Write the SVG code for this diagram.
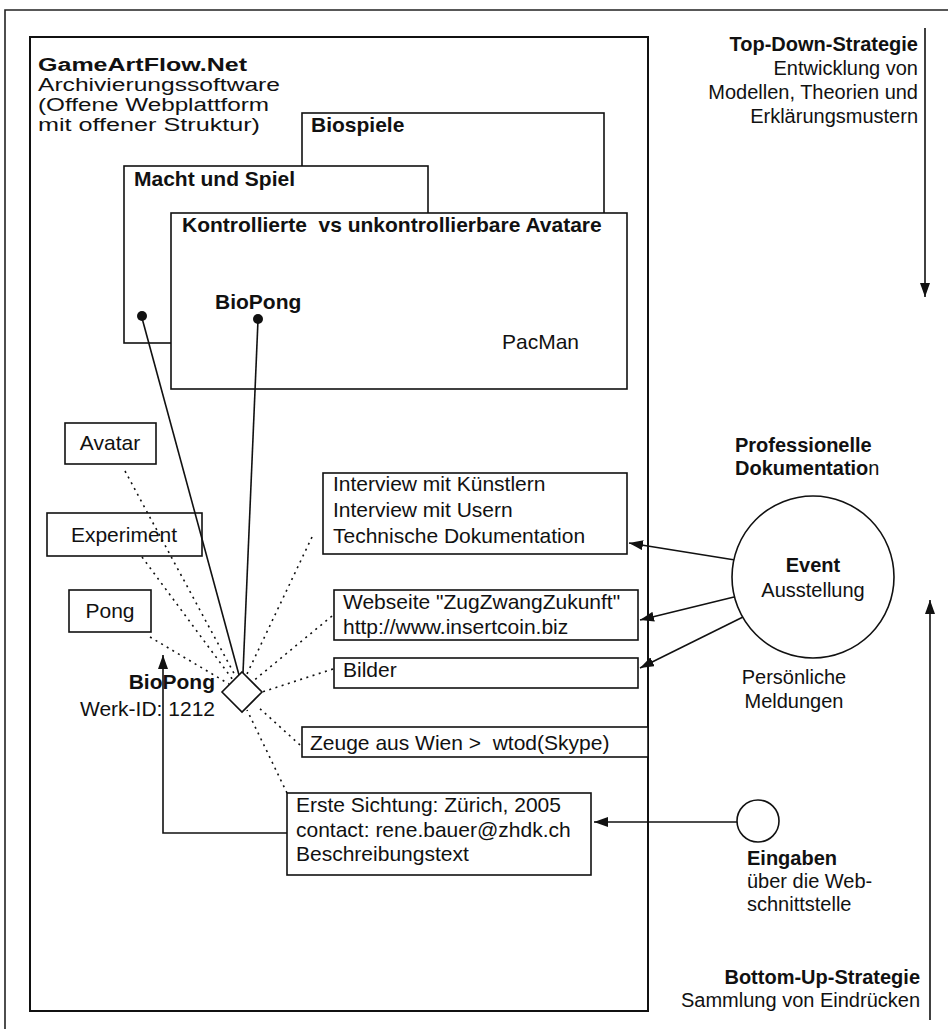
<svg xmlns="http://www.w3.org/2000/svg" width="948" height="1029" viewBox="0 0 948 1029">
<style>
text{font-family:"Liberation Sans",Arial,Helvetica,sans-serif;fill:#111;}
.t{font-size:21px;}
.s{font-size:20px;}
.b{font-weight:bold;}
.h{font-size:18px;}
.box{fill:#fff;stroke:#111;stroke-width:1.6;}
.ln{fill:none;stroke:#111;stroke-width:1.6;}
.dot{fill:none;stroke:#111;stroke-width:1.6;stroke-dasharray:2 4.5;}
.end{text-anchor:end;}
.mid{text-anchor:middle;}
</style>
<defs>
<marker id="ah" viewBox="0 0 14 10" refX="14" refY="5" markerWidth="14" markerHeight="10" markerUnits="userSpaceOnUse" orient="auto">
<path d="M0,0 L14,5 L0,10 z" fill="#111"/>
</marker>
</defs>
<rect width="948" height="1029" fill="#fff"/>
<path d="M5,1029 V10 H948" fill="none" stroke="#222" stroke-width="1.6"/>

<g id="main">
<rect x="30" y="37" width="618" height="974" fill="#fff" stroke="#111" stroke-width="2"/>
<text class="h b" x="38" y="71" textLength="209" lengthAdjust="spacingAndGlyphs">GameArtFlow.Net</text>
<text class="h" x="38" y="91" textLength="242" lengthAdjust="spacingAndGlyphs">Archivierungssoftware</text>
<text class="h" x="38" y="111" textLength="231" lengthAdjust="spacingAndGlyphs">(Offene Webplattform</text>
<text class="h" x="38" y="131" textLength="222" lengthAdjust="spacingAndGlyphs">mit offener Struktur)</text>
</g>

<g id="biospiele">
<rect class="box" x="302" y="113" width="302" height="120"/>
<text class="t b" x="311" y="132">Biospiele</text>
</g>
<g id="macht">
<rect class="box" x="124" y="166" width="304" height="177"/>
<text class="t b" x="134" y="186">Macht und Spiel</text>
</g>
<g id="kontrolliert">
<rect class="box" x="171" y="213" width="456" height="176"/>
<text class="t b" x="182" y="232" xml:space="preserve">Kontrollierte  vs unkontrollierbare Avatare</text>
<text class="t b" x="215" y="309">BioPong</text>
<text class="t" x="502" y="349">PacMan</text>
</g>

<g id="avatar"><rect class="box" x="65" y="423" width="91" height="41"/><text class="t mid" x="110" y="450">Avatar</text></g>
<g id="experiment"><rect class="box" x="47" y="513" width="155" height="43"/><text class="t mid" x="124" y="542">Experiment</text></g>
<g id="pong"><rect class="box" x="69" y="590" width="82" height="42"/><text class="t mid" x="110" y="618">Pong</text></g>

<g id="interview"><rect class="box" x="323" y="473" width="304" height="81"/>
<text class="t" x="333" y="491">Interview mit Künstlern</text>
<text class="t" x="333" y="517">Interview mit Usern</text>
<text class="t" x="333" y="543">Technische Dokumentation</text></g>
<g id="webseite"><rect class="box" x="334" y="590" width="304" height="50"/>
<text class="t" x="343" y="609">Webseite "ZugZwangZukunft"</text>
<text class="t" x="343" y="634">http://www.insertcoin.biz</text></g>
<g id="bilder"><rect class="box" x="334" y="658" width="304" height="30"/>
<text class="t" x="343" y="677">Bilder</text></g>
<g id="zeuge"><rect class="box" x="302" y="727" width="346" height="30"/>
<text class="t" x="310" y="750" xml:space="preserve">Zeuge aus Wien &gt;  wtod(Skype)</text></g>
<g id="erste"><rect class="box" x="287" y="793" width="304" height="82"/>
<text class="t" x="296" y="812">Erste Sichtung: Zürich, 2005</text>
<text class="t" x="296" y="837">contact: rene.bauer@zhdk.ch</text>
<text class="t" x="296" y="861">Beschreibungstext</text></g>

<g id="connectors">
<line class="ln" x1="142" y1="318" x2="239" y2="675"/>
<line class="ln" x1="258" y1="320" x2="243" y2="673"/>
<circle cx="142" cy="316" r="5" fill="#111"/>
<circle cx="258" cy="319" r="5" fill="#111"/>
<line class="dot" x1="125" y1="471" x2="236" y2="677"/>
<line class="dot" x1="142" y1="557" x2="233" y2="680"/>
<line class="dot" x1="150" y1="637" x2="229" y2="684"/>
<line class="dot" x1="312" y1="537" x2="246" y2="676"/>
<line class="dot" x1="332" y1="616" x2="252" y2="682"/>
<line class="dot" x1="333" y1="669" x2="262" y2="692"/>
<line class="dot" x1="300" y1="745" x2="257" y2="706"/>
<line class="dot" x1="287" y1="793" x2="247" y2="710"/>
<line class="ln" x1="735" y1="560" x2="629" y2="543" marker-end="url(#ah)"/>
<line class="ln" x1="734" y1="597" x2="640" y2="620" marker-end="url(#ah)"/>
<line class="ln" x1="743" y1="617" x2="640" y2="668" marker-end="url(#ah)"/>
<line class="ln" x1="737" y1="822" x2="594" y2="822" marker-end="url(#ah)"/>
<polyline class="ln" points="287,833 163,833 163,655" marker-end="url(#ah)"/>
<line class="ln" x1="925" y1="28" x2="925" y2="297" marker-end="url(#ah)"/>
<line class="ln" x1="930" y1="1020" x2="930" y2="600" marker-end="url(#ah)"/>
</g>

<g id="werk">
<polygon points="242,672 262,692 242,712 222,692" fill="#fff" stroke="#111" stroke-width="1.6"/>
<text class="t b end" x="215" y="689">BioPong</text>
<text class="t end" x="215" y="716">Werk-ID: 1212</text>
</g>

<g id="event">
<circle cx="813" cy="577" r="81" fill="#fff" stroke="#111" stroke-width="1.6"/>
<text class="s b mid" x="813" y="572">Event</text>
<text class="s mid" x="813" y="597">Ausstellung</text>
</g>
<g id="profdoc">
<text class="s b" x="735" y="452">Professionelle</text>
<text class="s" x="735" y="475"><tspan font-weight="bold">Dokumentatio</tspan>n</text>
</g>
<g id="persoenlich">
<text class="s mid" x="794" y="684">Persönliche</text>
<text class="s mid" x="794" y="708">Meldungen</text>
</g>
<g id="eingaben">
<circle cx="758" cy="821" r="21" fill="#fff" stroke="#111" stroke-width="1.6"/>
<text class="s b" x="747" y="865">Eingaben</text>
<text class="s" x="747" y="888">über die Web-</text>
<text class="s" x="747" y="911">schnittstelle</text>
</g>
<g id="topdown">
<text class="s b end" x="918" y="51" font-size="21">Top-Down-Strategie</text>
<text class="s end" x="918" y="75">Entwicklung von</text>
<text class="s end" x="918" y="99">Modellen, Theorien und</text>
<text class="s end" x="918" y="123">Erklärungsmustern</text>
</g>
<g id="bottomup">
<text class="s b end" x="920" y="984">Bottom-Up-Strategie</text>
<text class="s end" x="920" y="1007">Sammlung von Eindrücken</text>
</g>
</svg>
